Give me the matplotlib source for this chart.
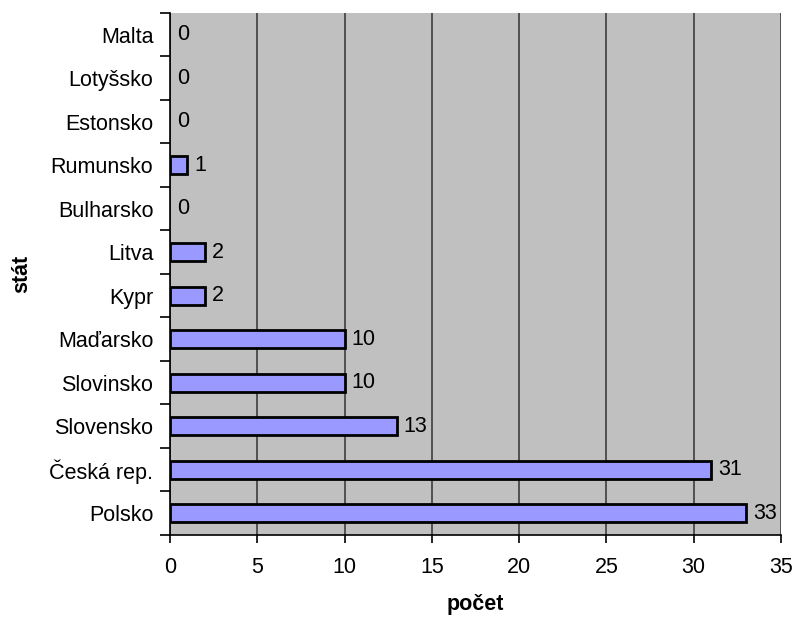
import matplotlib.pyplot as plt
import numpy as np

plt.rcParams['font.family'] = ['Liberation Sans', 'DejaVu Sans']

# Počet podle státu, od spodní příčky nahoru
staty = ["Polsko", "Česká rep.", "Slovensko", "Slovinsko", "Maďarsko", "Kypr",
         "Litva", "Bulharsko", "Rumunsko", "Estonsko", "Lotyšsko", "Malta"]
pocty = [33, 31, 13, 10, 10, 2, 2, 0, 1, 0, 0, 0]
x_ticks = [0, 5, 10, 15, 20, 25, 30, 35]

fs = 15.5

fig = plt.figure(figsize=(7.95, 6.17), dpi=100)
ax = fig.add_axes([0.2138, 0.1329, 0.7686, 0.8461])
ax.set_facecolor('#C0C0C0')

y = np.arange(len(staty))
edges = ['black' if v > 0 else 'none' for v in pocty]
ax.barh(y, pocty, height=0.42, color='#9999FF', edgecolor=edges, linewidth=2, zorder=3)

for yi, v in zip(y, pocty):
    ax.annotate(str(v), (v, yi), xytext=(5, 0), textcoords='offset points',
                va='center', ha='left', fontsize=fs, zorder=4)

ax.set_xlim(0, 35)
ax.set_ylim(-0.5, len(staty) - 0.5)
ax.set_xticks(x_ticks)
ax.set_yticks(y)
ax.set_yticklabels(staty)
ax.set_yticks(np.arange(-0.5, len(staty), 1.0), minor=True)
ax.tick_params(axis='y', which='major', length=0, pad=12, labelsize=fs)
ax.tick_params(axis='y', which='minor', length=7, width=1.2, color='black')
ax.tick_params(axis='x', length=6, width=1.2, pad=10, labelsize=fs)

ax.grid(axis='x', color='#333333', linewidth=1.1, zorder=1)
for s in ['top', 'right']:
    ax.spines[s].set_visible(False)
ax.spines['left'].set_linewidth(1.2)
ax.spines['bottom'].set_linewidth(1.2)

ax.set_xlabel('počet', fontsize=fs, fontweight='bold', labelpad=11)
ax.set_ylabel('stát', fontsize=fs, fontweight='bold', labelpad=12)

fig.savefig('out.png', dpi=100)
